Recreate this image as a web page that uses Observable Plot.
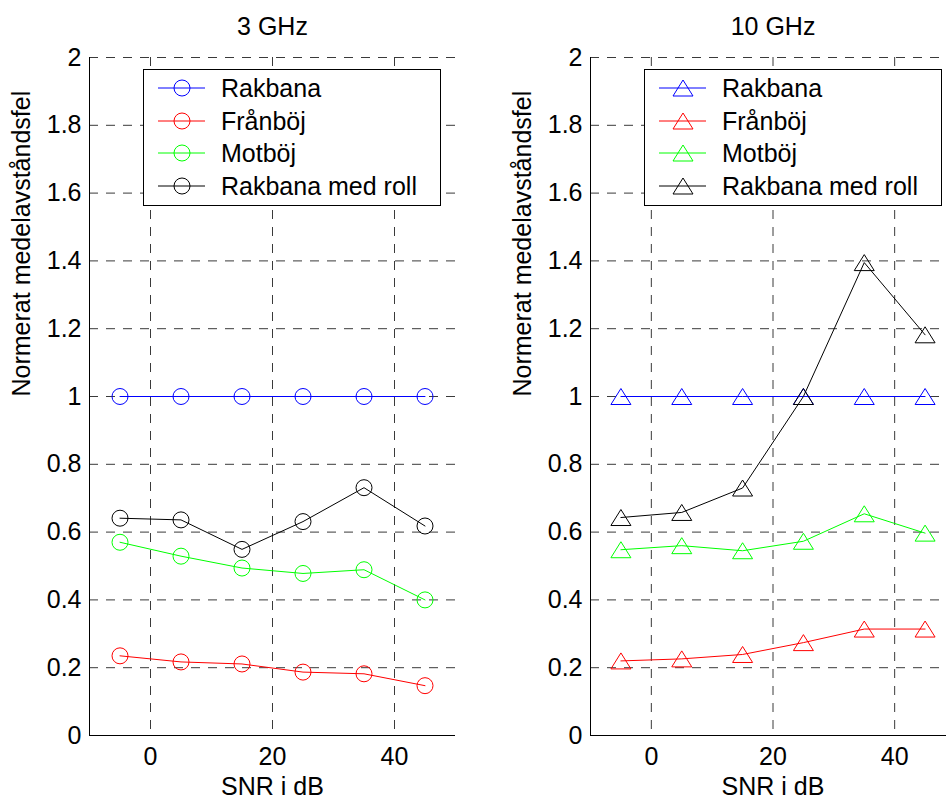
<!DOCTYPE html>
<html>
<head>
<meta charset="utf-8">
<script src="https://cdn.jsdelivr.net/npm/d3@7"></script>
<script src="https://cdn.jsdelivr.net/npm/@observablehq/plot@0.6"></script>
<style>
  body { margin: 0; background: #fff; }
  #figure {
    position: relative; width: 946px; height: 803px; overflow: hidden; background: #fff;
    font-family: "Liberation Sans", Arial, Helvetica, sans-serif;
  }
  .panel { position: absolute; top: 0; }
  .legend {
    position: absolute; top: 69px; width: 298px; height: 137px; box-sizing: border-box;
    border: 1px solid #000; background: #fff;
  }
  .legend .row {
    position: absolute; left: 0; height: 30px; display: flex; align-items: center;
    font-size: 25px; line-height: 30px; color: #000; white-space: nowrap;
  }
  .legend svg { display: block; flex: none; }
</style>
</head>
<body>
<div id="figure"></div>
<script>
// SNR levels (dB) at which the position error was evaluated
const snr = [-5, 5, 15, 25, 35, 45];
const series = ["Rakbana", "Frånböj", "Motböj", "Rakbana med roll"];
const colors = ["#0000ff", "#ff0000", "#00ff00", "#000000"];

// Normalised mean distance error, 3 GHz
const rakbana3 = [1, 1, 1, 1, 1, 1];
const franboj3 = [0.235, 0.217, 0.211, 0.187, 0.182, 0.147];
const motboj3  = [0.570, 0.529, 0.494, 0.478, 0.489, 0.400];
const roll3    = [0.641, 0.636, 0.549, 0.631, 0.731, 0.618];

// Normalised mean distance error, 10 GHz
const rakbana10 = [1, 1, 1, 1, 1, 1];
const franboj10 = [0.220, 0.226, 0.239, 0.274, 0.314, 0.314];
const motboj10  = [0.548, 0.560, 0.545, 0.573, 0.654, 0.597];
const roll10    = [0.643, 0.658, 0.730, 1.000, 1.395, 1.182];

// Axis ticks
const xTicks = [0, 20, 40];
const yTicks = [0, 0.2, 0.4, 0.6, 0.8, 1, 1.2, 1.4, 1.6, 1.8, 2];

const fontFamily = '"Liberation Sans", Arial, Helvetica, sans-serif';

// Upward triangle marker, wider than tall
const triangle = {
  draw(context, size) {
    const r = Math.sqrt(size / Math.PI);
    const w = 1.25 * r, h = r;
    context.moveTo(0, -h);
    context.lineTo(w, h);
    context.lineTo(-w, h);
    context.closePath();
  }
};

function panel({title, values, symbol, width, marginLeft, marginRight}) {
  const rows = series.flatMap((name, i) =>
    snr.map((x, j) => ({series: name, snr: x, value: values[i][j]})));
  const grid = {stroke: "#3a3a3a", strokeOpacity: 1, strokeWidth: 1, strokeDasharray: "9,8"};
  return Plot.plot({
    width, height: 803,
    marginTop: 57, marginBottom: 68, marginLeft, marginRight,
    x: {domain: [-10, 50]},
    y: {domain: [0, 2]},
    style: {fontFamily, fontSize: "25px", color: "#000", background: "transparent"},
    marks: [
      Plot.gridY(yTicks, grid),
      Plot.gridX(xTicks, grid),
      Plot.ruleX([-10], {stroke: "#000"}),
      Plot.ruleY([0], {stroke: "#000"}),
      Plot.axisX({ticks: xTicks, tickSize: 0, tickPadding: 12, label: null, tickFormat: d => String(d)}),
      Plot.axisY({ticks: yTicks, tickSize: 0, tickPadding: 8, label: null, tickFormat: d => String(d)}),
      ...series.flatMap((name, i) => {
        const data = rows.filter(d => d.series === name);
        return [
          Plot.line(data, {x: "snr", y: "value", stroke: colors[i], strokeWidth: 1}),
          Plot.dot(data, {x: "snr", y: "value", r: 8, symbol, stroke: colors[i], strokeWidth: 1, fill: "none"})
        ];
      }),
      Plot.text([title], {text: d => d, frameAnchor: "top", dy: -31, lineAnchor: "middle"}),
      Plot.text(["SNR i dB"], {text: d => d, frameAnchor: "bottom", dy: 51, lineAnchor: "middle"}),
      Plot.text(["Normerat medelavståndsfel"], {text: d => d, frameAnchor: "left", dx: -68, rotate: -90, lineAnchor: "middle"})
    ]
  });
}

function legend(marker, left) {
  const box = document.createElement("div");
  box.className = "legend";
  box.style.left = left + "px";
  const ns = "http://www.w3.org/2000/svg";
  series.forEach((name, i) => {
    const row = document.createElement("div");
    row.className = "row";
    row.style.top = (18 + i * 32.7 - 15) + "px";
    const svg = document.createElementNS(ns, "svg");
    svg.setAttribute("width", 77);
    svg.setAttribute("height", 30);
    const line = document.createElementNS(ns, "line");
    line.setAttribute("x1", 14); line.setAttribute("x2", 61);
    line.setAttribute("y1", 15); line.setAttribute("y2", 15);
    line.setAttribute("stroke", colors[i]);
    svg.appendChild(line);
    let m;
    if (marker === "circle") {
      m = document.createElementNS(ns, "circle");
      m.setAttribute("cx", 38); m.setAttribute("cy", 15); m.setAttribute("r", 8);
    } else {
      m = document.createElementNS(ns, "path");
      m.setAttribute("d", "M38,7L48,23L28,23Z");
    }
    m.setAttribute("fill", "none");
    m.setAttribute("stroke", colors[i]);
    svg.appendChild(m);
    row.appendChild(svg);
    const label = document.createElement("span");
    label.textContent = name;
    row.appendChild(label);
    box.appendChild(row);
  });
  return box;
}

const fig = document.getElementById("figure");

const left = panel({
  title: "3 GHz", values: [rakbana3, franboj3, motboj3, roll3], symbol: "circle",
  width: 470, marginLeft: 89, marginRight: 15
});
left.classList.add("panel");
left.style.left = "0px";
fig.appendChild(left);

const right = panel({
  title: "10 GHz", values: [rakbana10, franboj10, motboj10, roll10], symbol: triangle,
  width: 465, marginLeft: 100, marginRight: 0
});
right.classList.add("panel");
right.style.left = "490px";
fig.appendChild(right);

fig.appendChild(legend("circle", 143));
fig.appendChild(legend("triangle", 644));
</script>
</body>
</html>
